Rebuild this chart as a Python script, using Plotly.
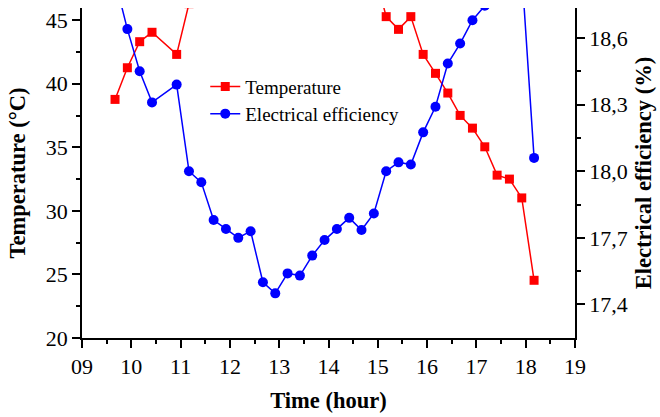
import plotly.graph_objects as go

# ---- data ----
time_h = [9.67, 9.92, 10.17, 10.42, 10.92, 11.17, 11.42, 11.67, 11.92, 12.17,
          12.42, 12.67, 12.92, 13.17, 13.42, 13.67, 13.92, 14.17, 14.42, 14.67,
          14.92, 15.17, 15.42, 15.67, 15.92, 16.17, 16.42, 16.67, 16.92, 17.17,
          17.42, 17.67, 17.92, 18.17]

# temperature (°C); midday values lie above the visible axis range
temperature = [38.77, 41.26, 43.31, 44.05, 42.31, 46.3, 47.5, 48.6, 49.5, 50.3,
               51.0, 51.8, 52.3, 52.0, 51.6, 51.2, 50.8, 50.3, 49.9, 49.4,
               49.0, 45.28, 44.28, 45.28, 42.31, 40.82, 39.27, 37.51, 36.51, 35.04,
               32.81, 32.50, 31.02, 24.54]

# electrical efficiency (%); a few values lie above the visible axis range
efficiency = [18.86, 18.64, 18.45, 18.31, 18.39, 18.00, 17.95, 17.78, 17.74, 17.70,
              17.73, 17.50, 17.45, 17.54, 17.53, 17.62, 17.69, 17.74, 17.79, 17.735,
              17.81, 18.00, 18.04, 18.03, 18.175, 18.29, 18.485, 18.575, 18.68, 18.745,
              18.80, 18.86, 18.90, 18.06]

x_tickvals = [9, 10, 11, 12, 13, 14, 15, 16, 17, 18, 19]
x_ticktext = ["09", "10", "11", "12", "13", "14", "15", "16", "17", "18", "19"]
x_minor = [9.5, 10.5, 11.5, 12.5, 13.5, 14.5, 15.5, 16.5, 17.5, 18.5]

y_tickvals = [20, 25, 30, 35, 40, 45]
y_minor = [22.5, 27.5, 32.5, 37.5, 42.5]

y2_tickvals = [17.4, 17.7, 18.0, 18.3, 18.6]
y2_ticktext = ["17,4", "17,7", "18,0", "18,3", "18,6"]
y2_minor = [17.55, 17.85, 18.15, 18.45]

FONT = "Liberation Serif"

fig = go.Figure()
fig.add_trace(go.Scatter(
    x=time_h, y=temperature, name="Temperature", mode="lines+markers",
    line=dict(color="#FF0000", width=1.5),
    marker=dict(symbol="square", size=9, color="#FF0000"),
    legend="legend", yaxis="y"))
fig.add_trace(go.Scatter(
    x=time_h, y=efficiency, name="Electrical efficiency", mode="lines+markers",
    line=dict(color="#0000FF", width=1.5),
    marker=dict(symbol="circle", size=10, color="#0000FF"),
    legend="legend2", yaxis="y2"))

axis_common = dict(showline=True, linecolor="black", linewidth=1.5,
                   ticks="outside", ticklen=8, tickwidth=1.5, tickcolor="black",
                   showgrid=False, zeroline=False,
                   tickfont=dict(family=FONT, size=22, color="black"))

legend_common = dict(xanchor="left", yanchor="top", bgcolor="rgba(0,0,0,0)",
                     font=dict(family=FONT, size=19, color="black"))

fig.update_layout(
    width=660, height=417,
    margin=dict(l=82, r=83, t=8, b=79),
    paper_bgcolor="white", plot_bgcolor="white",
    font=dict(family=FONT, color="black"),
    showlegend=True,
    legend=dict(x=0.25, y=0.819, **legend_common),
    legend2=dict(x=0.25, y=0.737, **legend_common),
    xaxis=dict(range=[9, 19], tickmode="array", tickvals=x_tickvals, ticktext=x_ticktext,
               minor=dict(tickmode="array", tickvals=x_minor, ticks="outside",
                          ticklen=4, tickwidth=1.5, tickcolor="black", showgrid=False),
               title=dict(text="<b>Time (hour)</b>", font=dict(family=FONT, size=22.5),
                          standoff=14),
               **axis_common),
    yaxis=dict(range=[20, 45.96], tickmode="array", tickvals=y_tickvals,
               minor=dict(tickmode="array", tickvals=y_minor, ticks="outside",
                          ticklen=4, tickwidth=1.5, tickcolor="black", showgrid=False),
               title=dict(text="<b>Temperature (°C)</b>", font=dict(family=FONT, size=22.5),
                          standoff=14),
               **axis_common),
    yaxis2=dict(range=[17.249, 18.735], overlaying="y", side="right", anchor="x",
                tickmode="array", tickvals=y2_tickvals, ticktext=y2_ticktext,
                minor=dict(tickmode="array", tickvals=y2_minor, ticks="outside",
                           ticklen=4, tickwidth=1.5, tickcolor="black", showgrid=False),
                title=dict(text="<b>Electrical efficiency (%)</b>",
                           font=dict(family=FONT, size=22.5), standoff=9),
                **axis_common),
)

fig.write_html("out.html")
